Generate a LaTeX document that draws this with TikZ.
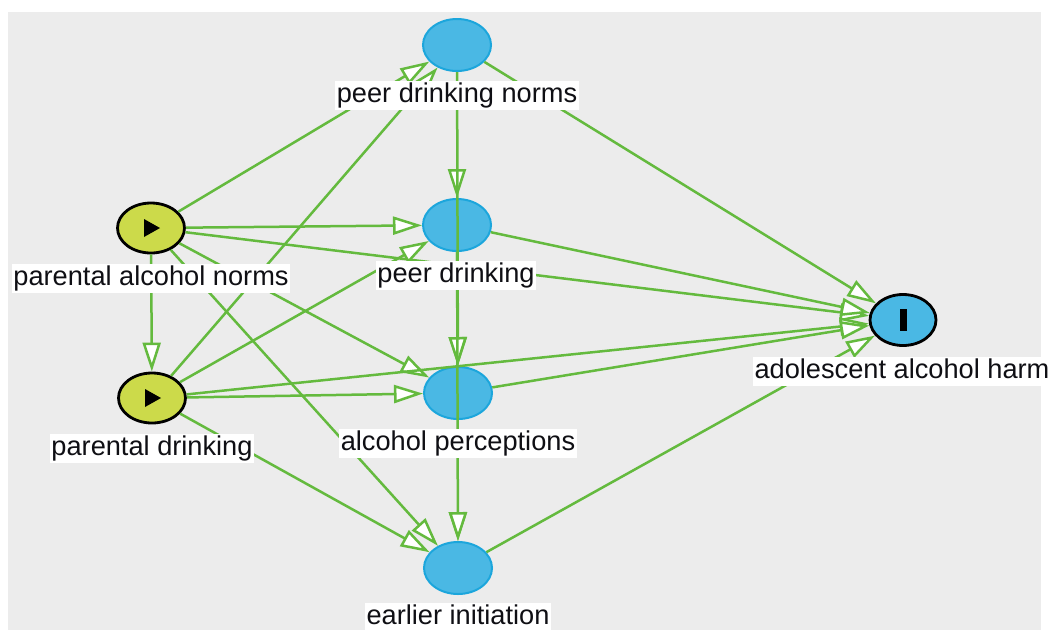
\documentclass[tikz,border=0pt]{standalone}
\usepackage{fontspec}
\setmainfont{Liberation Sans}
\usetikzlibrary{shapes.geometric,arrows.meta}

\definecolor{edgegreen}{RGB}{100,186,62}
\definecolor{varblue}{RGB}{74,184,228}
\definecolor{varblueline}{RGB}{28,166,220}
\definecolor{expofill}{RGB}{204,218,74}
\definecolor{canvas}{RGB}{236,236,236}
\definecolor{labeltext}{RGB}{15,15,20}

\tikzset{
  varnode/.style={ellipse, inner sep=0pt, minimum width=68pt, minimum height=52pt,
    fill=varblue, draw=varblueline, line width=2pt},
  exponode/.style={ellipse, inner sep=0pt, minimum width=67pt, minimum height=50pt,
    fill=expofill, draw=black, line width=2.8pt},
  outnode/.style={ellipse, inner sep=0pt, minimum width=66pt, minimum height=51pt,
    fill=varblue, draw=black, line width=2.8pt},
  varlabel/.style={fill=white, text=labeltext, inner xsep=1.5pt, inner ysep=1.5pt,
    text height=20pt, text depth=6pt,
    font=\fontsize{27.2}{31}\selectfont},
  causal/.style={draw=edgegreen, line width=2.5pt,
    -{Triangle[length=29pt, width=18pt, fill=white, line width=2.5pt]}},
}

\begin{document}
\begin{tikzpicture}[x=1pt, y=-1pt]
  \useasboundingbox (0,0) rectangle (1048,630);
  \fill[canvas] (8,12) rectangle (1041,630);

  % variables
  \node[varnode]  (pdn) at (457,45)  {};
  \node[varnode]  (pd)  at (457,225) {};
  \node[varnode]  (ap)  at (458,393) {};
  \node[varnode]  (ei)  at (458,568) {};
  \node[exponode] (pan) at (151,228) {};
  \node[exponode] (pdr) at (152,398) {};
  \node[outnode]  (aah) at (903,320) {};

  % causal arrows
  \draw[causal] (pan) -- (pdn);
  \draw[causal] (pan) -- (pd);
  \draw[causal] (pan) -- (ap);
  \draw[causal] (pan) -- (pdr);
  \draw[causal] (pan) -- (ei);
  \draw[causal] (pan) -- (aah);
  \draw[causal] (pdr) -- (pdn);
  \draw[causal] (pdr) -- (pd);
  \draw[causal] (pdr) -- (ap);
  \draw[causal] (pdr) -- (ei);
  \draw[causal] (pdr) -- (aah);
  \draw[causal] (pdn) -- (pd);
  \draw[causal] (pdn) -- (ap);
  \draw[causal] (pdn) -- (aah);
  \draw[causal] (pd)  -- (ap);
  \draw[causal] (pd)  -- (ei);
  \draw[causal] (pd)  -- (aah);
  \draw[causal] (ap)  -- (ei);
  \draw[causal] (ap)  -- (aah);
  \draw[causal] (ei)  -- (aah);

  % exposure and outcome markers
  \fill[black, shift={(pan.center)}] (-7,-9) -- (9,0) -- (-7,9) -- cycle;
  \fill[black, shift={(pdr.center)}] (-7,-9) -- (9,0) -- (-7,9) -- cycle;
  \fill[black, shift={(aah.center)}] (-3.5,-11) rectangle (3.5,11);

  % variable names
  \node[varlabel] (pdnL) at (457,95)  {peer drinking norms};
  \node[varlabel] (pdL)  at (456,275) {peer drinking};
  \node[varlabel] (apL)  at (458,443) {alcohol perceptions};
  \node[varlabel] (eiL)  at (458,617) {earlier initiation};
  \node[varlabel] (panL) at (151,278) {parental alcohol norms};
  \node[varlabel] (pdrL) at (152,448) {parental drinking};
  \node[varlabel] (aahL) at (902,371) {adolescent alcohol harm};
\end{tikzpicture}
\end{document}
